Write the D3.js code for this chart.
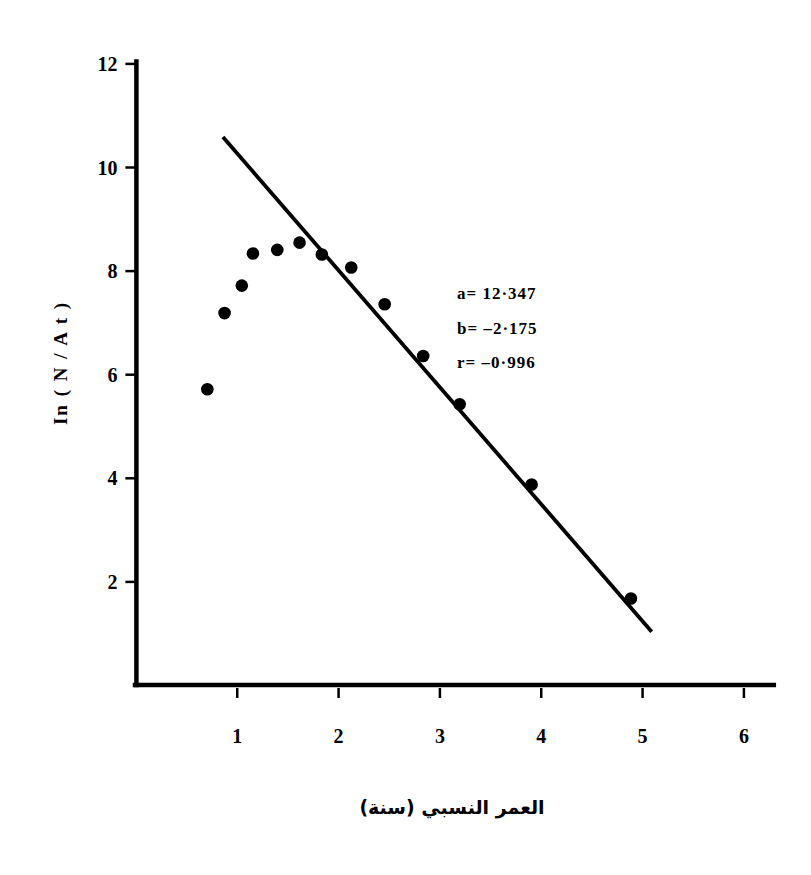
<!DOCTYPE html>
<html>
<head>
<meta charset="utf-8">
<script src="https://cdn.jsdelivr.net/npm/d3@7"></script>
<style>
html,body{margin:0;padding:0;background:#fff;}
svg{display:block;}
</style>
</head>
<body>
<svg id="chart" width="811" height="875"></svg>
<script>
// Data
const ageValues = [0.71, 0.88, 1.05, 1.16, 1.40, 1.62, 1.84, 2.13, 2.46, 2.84, 3.20, 3.91, 4.89];
const lnValues  = [5.71, 7.18, 7.71, 8.33, 8.40, 8.54, 8.31, 8.06, 7.35, 6.35, 5.42, 3.87, 1.67];
const fitLineX = [0.864, 5.095];
const fitLineY = [10.58, 1.03];
const xTicks = [1, 2, 3, 4, 5, 6];
const yTicks = [2, 4, 6, 8, 10, 12];
const statLines = ["a= 12·347", "b= –2·175", "r= –0·996"];
const xTitle = "العمر النسبي (سنة)";
const yTitle = "In ( N / A t )";

const svg = d3.select("#chart");
const x = d3.scaleLinear().domain([0, 6]).range([135.4, 743.4]);
const y = d3.scaleLinear().domain([0, 12]).range([685, 63.4]);

const serif = "'Liberation Serif','Times New Roman',serif";

// Axes
const xAxisG = svg.append("g").attr("transform", `translate(0,${y(0)})`);
xAxisG.call(d3.axisBottom(x).tickValues(xTicks).tickSize(0).tickFormat(""));
xAxisG.select(".domain").remove();
xAxisG.append("line").attr("x1", 135).attr("x2", x(6.3)).attr("y1", 0).attr("y2", 0)
  .attr("stroke", "#000").attr("stroke-width", 4.5).attr("stroke-linecap", "square");
xAxisG.selectAll(".tick").append("line")
  .attr("y1", 3).attr("y2", 13).attr("stroke", "#000").attr("stroke-width", 2.5);
xAxisG.selectAll(".tick").append("text")
  .attr("y", 58).attr("fill", "#000")
  .style("font-family", serif).style("font-weight", "bold").style("font-size", "20px")
  .attr("text-anchor", "middle")
  .text(d => d);

const yAxisG = svg.append("g").attr("transform", `translate(${x(0) + 1},0)`);
yAxisG.call(d3.axisLeft(y).tickValues(yTicks).tickSize(0).tickFormat(""));
yAxisG.select(".domain").remove();
yAxisG.append("line").attr("x1", 0).attr("x2", 0).attr("y1", y(12) - 2).attr("y2", y(0))
  .attr("stroke", "#000").attr("stroke-width", 4.5).attr("stroke-linecap", "square");
yAxisG.selectAll(".tick").append("line")
  .attr("x1", -11).attr("x2", 0).attr("stroke", "#000").attr("stroke-width", 2.5);
yAxisG.selectAll(".tick").append("text")
  .attr("x", -19).attr("dy", "0.35em").attr("fill", "#000")
  .style("font-family", serif).style("font-weight", "bold").style("font-size", "20px")
  .attr("text-anchor", "end")
  .text(d => d);

// Regression line
const lineData = fitLineX.map((v, i) => [v, fitLineY[i]]);
svg.append("path")
  .datum(lineData)
  .attr("d", d3.line().x(d => x(d[0])).y(d => y(d[1])))
  .attr("stroke", "#000").attr("stroke-width", 3.8).attr("fill", "none");

// Points
svg.append("g").selectAll("circle")
  .data(ageValues.map((v, i) => [v, lnValues[i]]))
  .join("circle")
  .attr("cx", d => x(d[0])).attr("cy", d => y(d[1])).attr("r", 6.3)
  .attr("fill", "#000");

// Stats text
svg.append("g").selectAll("text")
  .data(statLines)
  .join("text")
  .attr("x", 457).attr("y", (d, i) => 299 + i * 34.5)
  .attr("fill", "#000")
  .style("font-family", serif).style("font-weight", "bold").style("font-size", "17px")
  .style("letter-spacing", "1px")
  .text(d => d);

// Axis titles
svg.append("text")
  .attr("x", 452).attr("y", 814)
  .attr("text-anchor", "middle").attr("direction", "rtl")
  .attr("fill", "#000")
  .style("font-family", "'DejaVu Sans',sans-serif").style("font-weight", "bold").style("font-size", "19px")
  .text(xTitle);

svg.append("text")
  .attr("transform", "translate(67,363) rotate(-90)")
  .attr("text-anchor", "middle")
  .attr("fill", "#000")
  .style("font-family", serif).style("font-weight", "bold").style("font-size", "19px")
  .style("letter-spacing", "2px")
  .text(yTitle);
</script>
</body>
</html>
